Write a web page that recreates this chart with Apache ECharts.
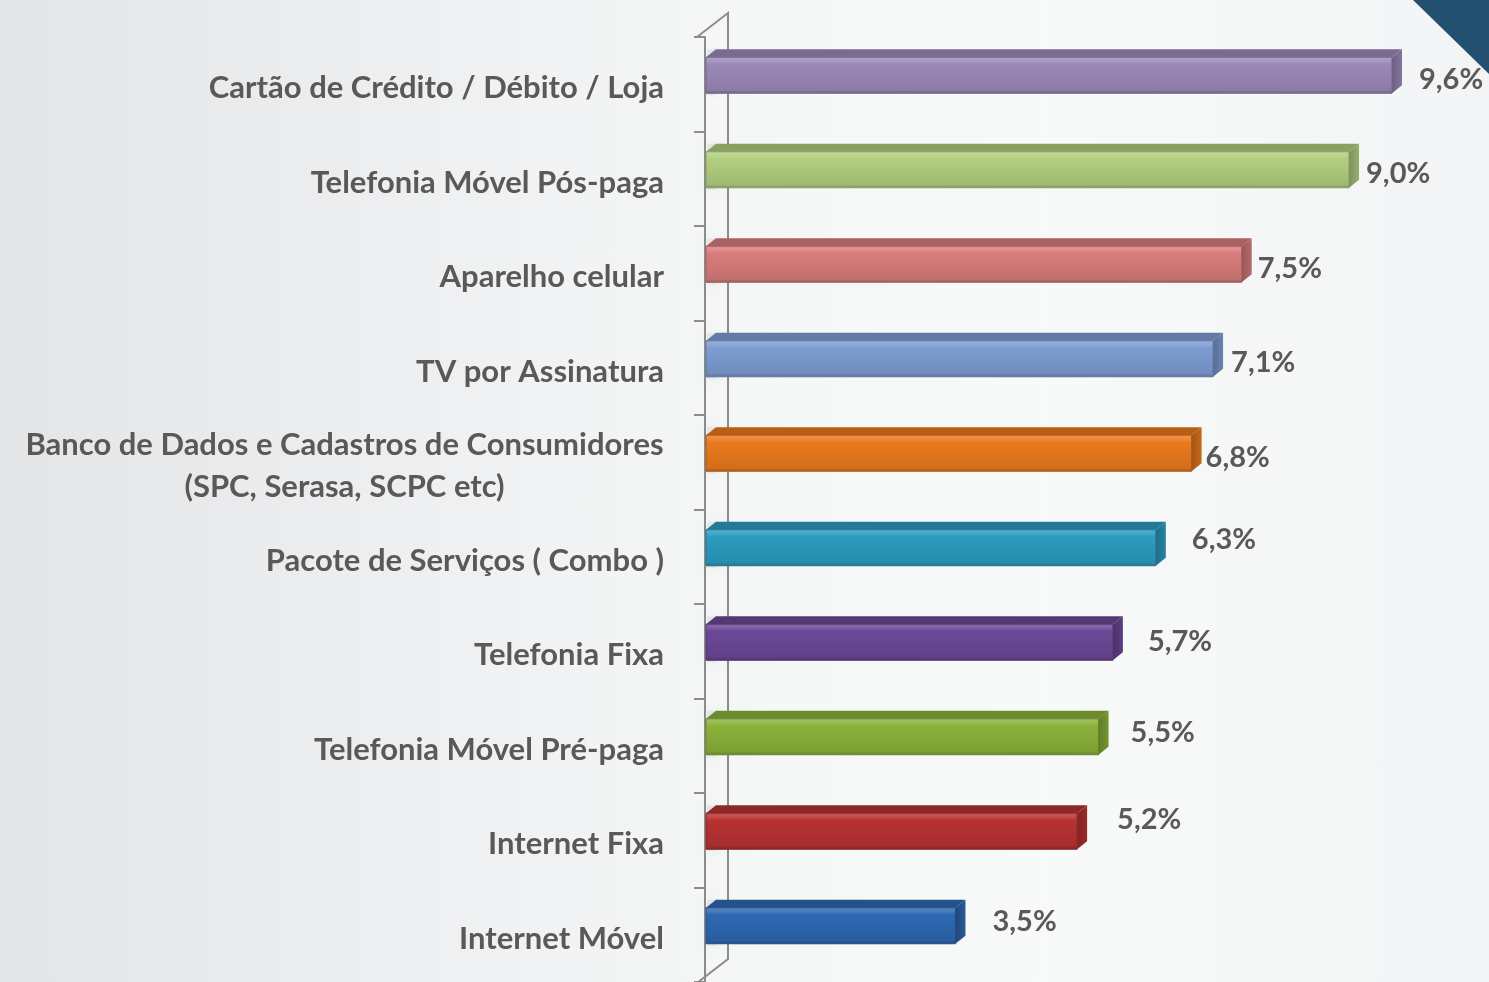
<!DOCTYPE html>
<html>
<head>
<meta charset="utf-8">
<script src="https://cdn.jsdelivr.net/npm/echarts@6/dist/echarts.min.js"></script>
<style>
  html, body { margin: 0; padding: 0; }
  #chart {
    width: 1489px;
    height: 982px;
    background: linear-gradient(to right, #e3e5e7 0%, #eceef0 25%, #f5f6f6 48%, #f8f9f9 70%, #f3f4f5 100%);
  }
</style>
</head>
<body>
<div id="chart"></div>
<script>
// dados do gráfico
const categories = [
  'Cartão de Crédito / Débito / Loja',
  'Telefonia Móvel Pós-paga',
  'Aparelho celular',
  'TV por Assinatura',
  'Banco de Dados e Cadastros de Consumidores\n(SPC, Serasa, SCPC etc)',
  'Pacote de Serviços ( Combo )',
  'Telefonia Fixa',
  'Telefonia Móvel Pré-paga',
  'Internet Fixa',
  'Internet Móvel'
];
const values = [9.6, 9.0, 7.5, 7.1, 6.8, 6.3, 5.7, 5.5, 5.2, 3.5];
const barColors = ['#9c89ba', '#b2cf80', '#d97c7c', '#7d9dd3', '#ea7a1e', '#2c9cc0', '#6b4897', '#8ab23a', '#b83232', '#2e68b2'];
// deslocamento do rótulo de valor em relação ao fim da barra
const labelShift = [[27, 4], [17, 4], [16, 4], [18, 4], [14, 4], [36, -8], [35, -1], [32, -4], [40, -12], [37, -4]];

function shade(hex, f) {
  let r = parseInt(hex.slice(1, 3), 16), g = parseInt(hex.slice(3, 5), 16), b = parseInt(hex.slice(5, 7), 16);
  if (f >= 0) {
    r = r + (255 - r) * f; g = g + (255 - g) * f; b = b + (255 - b) * f;
  } else {
    r = r * (1 + f); g = g * (1 + f); b = b * (1 + f);
  }
  return 'rgb(' + Math.round(r) + ',' + Math.round(g) + ',' + Math.round(b) + ')';
}

const font = 'Lato, "Open Sans", sans-serif';
const catSize = 31;

// largura da linha mais longa do rótulo de duas linhas
const ctx = document.createElement('canvas').getContext('2d');
ctx.font = 'bold ' + catSize + 'px ' + font;
const longLines = categories[4].split('\n');
const longWidth = Math.ceil(Math.max.apply(null, longLines.map(s => ctx.measureText(s).width)));

const myChart = echarts.init(document.getElementById('chart'));

const option = {
  animation: false,
  grid: { left: 705, top: 37, height: 948, width: 715.6 },
  xAxis: {
    type: 'value', min: 0, max: 10, show: false
  },
  yAxis: {
    type: 'category',
    inverse: true,
    data: categories,
    offset: 8,
    axisLine: { show: true, lineStyle: { color: '#8c8c8c', width: 2 } },
    axisTick: { show: true, length: 11, lineStyle: { color: '#8c8c8c', width: 2 } },
    axisLabel: {
      margin: 33,
      color: '#595959',
      fontFamily: font,
      fontWeight: 'bold',
      fontSize: catSize,
      lineHeight: 42,
      padding: [8, 0, 0, 0],
      formatter: function (v) {
        if (v.indexOf('\n') >= 0) {
          return v.split('\n').map(s => '{w|' + s + '}').join('\n');
        }
        return v;
      },
      rich: {
        w: { width: longWidth, align: 'center', color: '#595959', fontFamily: font, fontWeight: 'bold', fontSize: catSize, lineHeight: 42 }
      }
    }
  },
  graphic: [
    {
      type: 'polyline', z: 1,
      shape: { points: [[697, 37], [728, 13], [728, 959], [697, 983]] },
      style: { stroke: '#8c8c8c', lineWidth: 2, fill: null }
    },
    {
      type: 'polygon', z: 10,
      shape: { points: [[1413, 0], [1489, 0], [1489, 74]] },
      style: { fill: '#23506f' }
    }
  ],
  series: [{
    type: 'custom',
    data: values.map((v, i) => [i, v]),
    encode: { x: 1, y: 0 },
    renderItem: function (params, api) {
      const i = api.value(0);
      const v = api.value(1);
      const start = api.coord([0, i]);
      const end = api.coord([v, i]);
      const h = 36, dx = 10, dy = 8;
      const yc = start[1] - 9;
      const x0 = start[0] + 1, x1 = end[0];
      const y0 = yc - h / 2, y1 = yc + h / 2;
      const c = barColors[i];
      const val = v.toFixed(1).replace('.', ',') + '%';
      return {
        type: 'group',
        children: [
          {
            type: 'rect',
            shape: { x: x0 + 1, y: y0 - 8, width: 10, height: h + 10 },
            style: { fill: 'rgba(140,140,140,0.12)', shadowBlur: 9, shadowColor: 'rgba(0,0,0,0.35)', shadowOffsetX: 2 },
            silent: true
          },
          {
            type: 'rect',
            shape: { x: x0, y: y0, width: x1 - x0, height: h },
            style: {
              fill: new echarts.graphic.LinearGradient(0, 0, 0, 1, [
                { offset: 0, color: shade(c, 0.2) },
                { offset: 0.12, color: shade(c, 0.12) },
                { offset: 0.2, color: c },
                { offset: 0.9, color: shade(c, -0.1) },
                { offset: 1, color: shade(c, -0.3) }
              ]),
              stroke: shade(c, -0.25), lineWidth: 1
            }
          },
          {
            type: 'polygon',
            shape: { points: [[x0, y0], [x0 + dx, y0 - dy], [x1 + dx, y0 - dy], [x1, y0]] },
            style: { fill: shade(c, -0.22) }
          },
          {
            type: 'polygon',
            shape: { points: [[x1, y0], [x1 + dx, y0 - dy], [x1 + dx, y1 - dy], [x1, y1]] },
            style: {
              fill: new echarts.graphic.LinearGradient(0, 0, 1, 0, [
                { offset: 0, color: shade(c, -0.3) },
                { offset: 1, color: shade(c, -0.15) }
              ])
            }
          },
          {
            type: 'text',
            x: x1 + labelShift[i][0],
            y: yc + labelShift[i][1],
            style: {
              text: val,
              fill: '#595959',
              font: 'bold 29px ' + font,
              align: 'left',
              verticalAlign: 'middle'
            }
          }
        ]
      };
    }
  }]
};

myChart.setOption(option);
</script>
</body>
</html>
